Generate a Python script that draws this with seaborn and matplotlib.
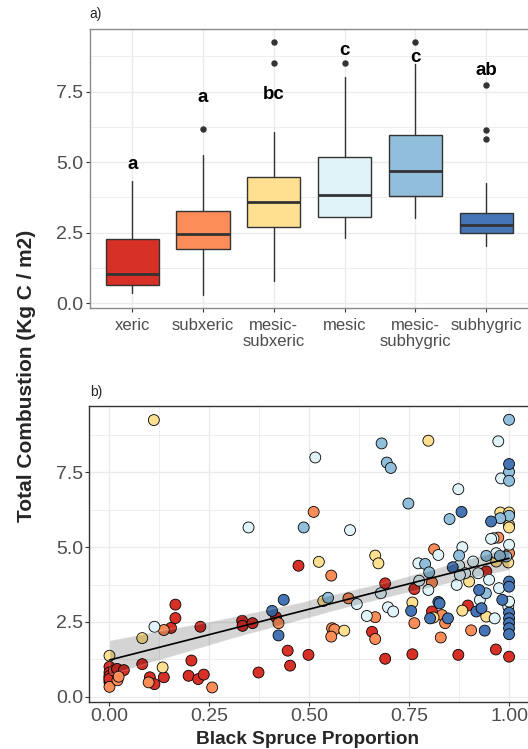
import numpy as np
import pandas as pd
import matplotlib
matplotlib.use("Agg")
import matplotlib.pyplot as plt
from matplotlib.ticker import MultipleLocator
import seaborn as sns

# ================================
# DATA
# ================================
classes = ["xeric", "subxeric", "mesic-subxeric", "mesic", "mesic-subhygric", "subhygric"]
class_labels = ["xeric", "subxeric", "mesic-\nsubxeric", "mesic", "mesic-\nsubhygric", "subhygric"]
class_colors = ["#D73027", "#FC8D59", "#FEE090", "#E0F3F8", "#91BFDB", "#4575B4"]

# box summaries (panel a)
box_low = [0.37, 0.30, 0.79, 2.32, 3.02, 2.02]
box_q1 = [0.65, 1.94, 2.72, 3.07, 3.79, 2.49]
box_med = [1.05, 2.44, 3.59, 3.85, 4.70, 2.76]
box_q3 = [2.29, 3.27, 4.47, 5.17, 5.98, 3.21]
box_high = [4.32, 5.27, 6.07, 8.00, 8.47, 4.26]
box_out = [[], [6.18], [8.52, 9.24], [8.52], [9.27], [5.81, 6.14, 7.74]]
letters = ["a", "a", "bc", "c", "c", "ab"]
letter_y = [4.92, 7.30, 7.41, 8.94, 8.71, 8.24]

# points (panel b)
xeric_x = [0.0, 0.0, 0.0, 0.0, 0.0, 0.0, 0.0, 0.011, 0.019, 0.036, 0.082, 0.101, 0.1125, 0.136,
           0.154, 0.165, 0.165, 0.2275, 0.205, 0.198, 0.222, 0.236, 0.332, 0.333,
           0.358, 0.417, 0.373, 0.446, 0.452, 0.498, 0.473, 0.69, 0.69, 0.657,
           0.763, 0.758, 0.807, 0.873, 0.897, 0.943, 0.967, 1.0]
xeric_y = [1.00, 0.81, 0.65, 0.48, 0.55, 0.70, 0.60, 0.87, 0.93, 0.89, 1.09, 0.65, 0.42, 0.65,
           2.30, 3.08, 2.63, 2.34, 1.21, 0.70, 0.59, 0.74, 2.54, 2.37,
           2.46, 2.66, 0.81, 1.54, 1.04, 1.40, 4.38, 3.79, 1.27, 2.17,
           3.60, 1.42, 2.85, 1.40, 3.05, 4.19, 1.58, 1.34]

subxeric_x = [0.0, 0.02, 0.023, 0.136, 0.098, 0.257, 0.555, 0.598, 0.423, 0.665, 0.557,
              0.563, 0.555, 0.665, 0.8125, 0.807, 0.832, 0.84, 0.763, 0.829, 0.905,
              1.0, 0.973, 0.511]
subxeric_y = [0.33, 0.55, 0.67, 2.23, 0.48, 0.31, 4.05, 3.29, 2.46, 2.66, 2.29,
              2.25, 2.01, 1.93, 4.93, 3.82, 2.73, 2.46, 2.46, 1.98, 2.22,
              4.80, 5.32, 6.18]

msubx_x = [0.111, 0.0, 0.082, 0.133, 0.524, 0.665, 0.673, 0.535, 0.5875, 0.758,
           0.811, 0.883, 0.90, 0.943, 0.798, 0.978, 1.0, 1.0, 1.0, 0.968, 0.998]
msubx_y = [9.25, 1.37, 1.96, 0.98, 4.51, 4.72, 4.46, 3.20, 2.21, 3.15,
           2.65, 2.88, 3.85, 2.68, 8.56, 6.16, 6.16, 5.74, 5.66, 4.52, 4.49]

mesic_x = [0.1125, 0.348, 0.515, 0.602, 0.619, 0.679, 0.644, 0.697, 0.71, 0.823,
           0.883, 0.773, 0.875, 0.89, 0.775, 0.798, 0.869, 0.91, 0.877, 0.9225,
           0.95, 0.975, 0.927, 0.998, 1.0, 0.964, 0.973, 0.98, 0.873, 0.961,
           0.955, 1.0, 0.968]
mesic_y = [2.34, 5.66, 8.00, 5.57, 3.10, 3.46, 2.70, 2.99, 2.85, 4.74,
           5.00, 4.46, 4.38, 4.13, 3.88, 3.57, 3.74, 4.52, 4.07, 4.13,
           3.91, 3.63, 3.24, 3.01, 3.18, 2.62, 8.54, 7.30, 6.94, 5.30,
           5.28, 5.08, 4.80]

msubh_x = [1.0, 0.681, 0.694, 0.704, 1.0, 1.0, 0.748, 0.851, 1.0, 0.978,
           0.486, 0.547, 0.875, 0.79, 0.80, 0.943, 0.993, 0.977, 0.942]
msubh_y = [9.26, 8.47, 7.83, 7.65, 7.52, 7.22, 6.46, 5.94, 6.05, 5.97,
           5.66, 3.31, 4.72, 4.44, 4.16, 4.71, 4.69, 4.71, 3.46]

subhyg_x = [1.0, 0.881, 0.955, 0.436, 0.407, 0.423, 0.859, 0.755, 0.823, 0.826,
            0.8025, 0.847, 1.0, 1.0, 0.925, 0.983, 0.918, 0.931, 1.0, 1.0,
            1.0, 1.0, 1.0, 0.939]
subhyg_y = [7.78, 6.18, 5.86, 3.24, 2.87, 2.05, 4.33, 2.87, 3.17, 3.12,
            2.62, 2.62, 3.85, 3.68, 3.57, 3.24, 2.85, 2.96, 2.81, 2.62,
            2.46, 2.29, 2.09, 2.21]

xs = [xeric_x, subxeric_x, msubx_x, mesic_x, msubh_x, subhyg_x]
ys = [xeric_y, subxeric_y, msubx_y, mesic_y, msubh_y, subhyg_y]
df = pd.concat([pd.DataFrame({"bs": x, "tc": y, "cls": c}) for x, y, c in zip(xs, ys, classes)],
               ignore_index=True)

# ================================
# STYLE
# ================================
sns.set_style("white")
plt.rcParams["font.family"] = ["Liberation Sans", "DejaVu Sans"]
GRID = "#EBEBEB"
TICKC = "#4D4D4D"

fig = plt.figure(figsize=(5.28, 7.49), dpi=100)
ax1 = fig.add_axes([0.170, 0.589, 0.831, 0.372])
ax2 = fig.add_axes([0.1695, 0.0634, 0.8325, 0.3945])

# ================================
# PANEL A - boxplots
# ================================
stats = []
for i in range(len(classes)):
    stats.append(dict(whislo=box_low[i], q1=box_q1[i], med=box_med[i], q3=box_q3[i],
                      whishi=box_high[i], fliers=box_out[i]))
bp = ax1.bxp(stats, positions=range(len(classes)), widths=0.75, patch_artist=True,
             showcaps=False, manage_ticks=False,
             boxprops=dict(edgecolor="#333333", linewidth=1.0),
             whiskerprops=dict(color="#333333", linewidth=1.0),
             medianprops=dict(color="#333333", linewidth=2.0),
             flierprops=dict(marker="o", markerfacecolor="#333333", markeredgecolor="#333333",
                             markersize=3.6, linestyle="none"))
for patch, col in zip(bp["boxes"], class_colors):
    patch.set_facecolor(col)
for i, (lab, ly) in enumerate(zip(letters, letter_y)):
    ax1.text(i, ly, lab, ha="center", va="center", fontsize=13.5, fontweight="bold", color="black")

ax1.set_xlim(-0.6, 5.6)
ax1.set_ylim(-0.16, 9.71)
ax1.set_xticks(range(len(classes)))
ax1.set_xticklabels(class_labels, fontsize=12, color=TICKC, linespacing=1.1)
ax1.yaxis.set_minor_locator(MultipleLocator(1.25))
ax1.set_yticks([0, 2.5, 5.0, 7.5])
ax1.set_yticklabels(["0.0", "2.5", "5.0", "7.5"])
ax1.tick_params(axis="y", labelsize=14, labelcolor=TICKC)
ax1.grid(which="major", color=GRID, lw=1.0)
ax1.grid(which="minor", axis="y", color=GRID, lw=0.6)
ax1.set_axisbelow(True)
for s in ax1.spines.values():
    s.set_color("#8A8A8A")
    s.set_linewidth(1.0)
ax1.set_xlabel("")
ax1.set_ylabel("")

# ================================
# PANEL B - scatter + lm
# ================================
sns.scatterplot(data=df, x="bs", y="tc", hue="cls", hue_order=classes, palette=class_colors,
                s=62, edgecolor="black", linewidth=0.6, legend=False, ax=ax2, zorder=2)
sns.regplot(data=df, x="bs", y="tc", scatter=False, color="black", ci=95,
            line_kws=dict(lw=1.2, zorder=4), ax=ax2)
for coll in ax2.collections[1:]:
    coll.set_zorder(3)
    coll.set_alpha(0.17)

ax2.set_xlim(-0.05, 1.05)
ax2.set_ylim(-0.16, 9.72)
ax2.xaxis.set_minor_locator(MultipleLocator(0.125))
ax2.yaxis.set_minor_locator(MultipleLocator(1.25))
ax2.set_xticks([0, 0.25, 0.5, 0.75, 1.0])
ax2.set_xticklabels(["0.00", "0.25", "0.50", "0.75", "1.00"])
ax2.set_yticks([0, 2.5, 5.0, 7.5])
ax2.set_yticklabels(["0.0", "2.5", "5.0", "7.5"])
ax2.tick_params(axis="both", labelsize=14, labelcolor=TICKC)
ax2.grid(which="major", color=GRID, lw=1.0)
ax2.grid(which="minor", color=GRID, lw=0.6)
ax2.set_axisbelow(True)
for s in ax2.spines.values():
    s.set_color("#333333")
    s.set_linewidth(1.0)
ax2.set_xlabel("")
ax2.set_ylabel("")

for ax in (ax1, ax2):
    ax.tick_params(which="major", direction="out", length=2.75, width=0.8, color="#333333",
                   pad=1.8, left=True, bottom=True)
    ax.tick_params(which="minor", length=0)
ax1.tick_params(axis="x", pad=4.5)

# ================================
# TEXT
# ================================
fig.text(0.170, 0.981, "a)", fontsize=10, ha="left", va="center")
fig.text(0.170, 1 - 391.5 / 749, "b)", fontsize=10, ha="left", va="center")
fig.text(27 / 528, 1 - 376 / 749, "Total Combustion (Kg C / m2)", rotation=90,
         fontsize=15, fontweight="bold", ha="center", va="center")
fig.text(308 / 528, 1 - 739 / 749, "Black Spruce Proportion",
         fontsize=13.7, fontweight="bold", ha="center", va="center")

fig.savefig("out.png", dpi=100)
